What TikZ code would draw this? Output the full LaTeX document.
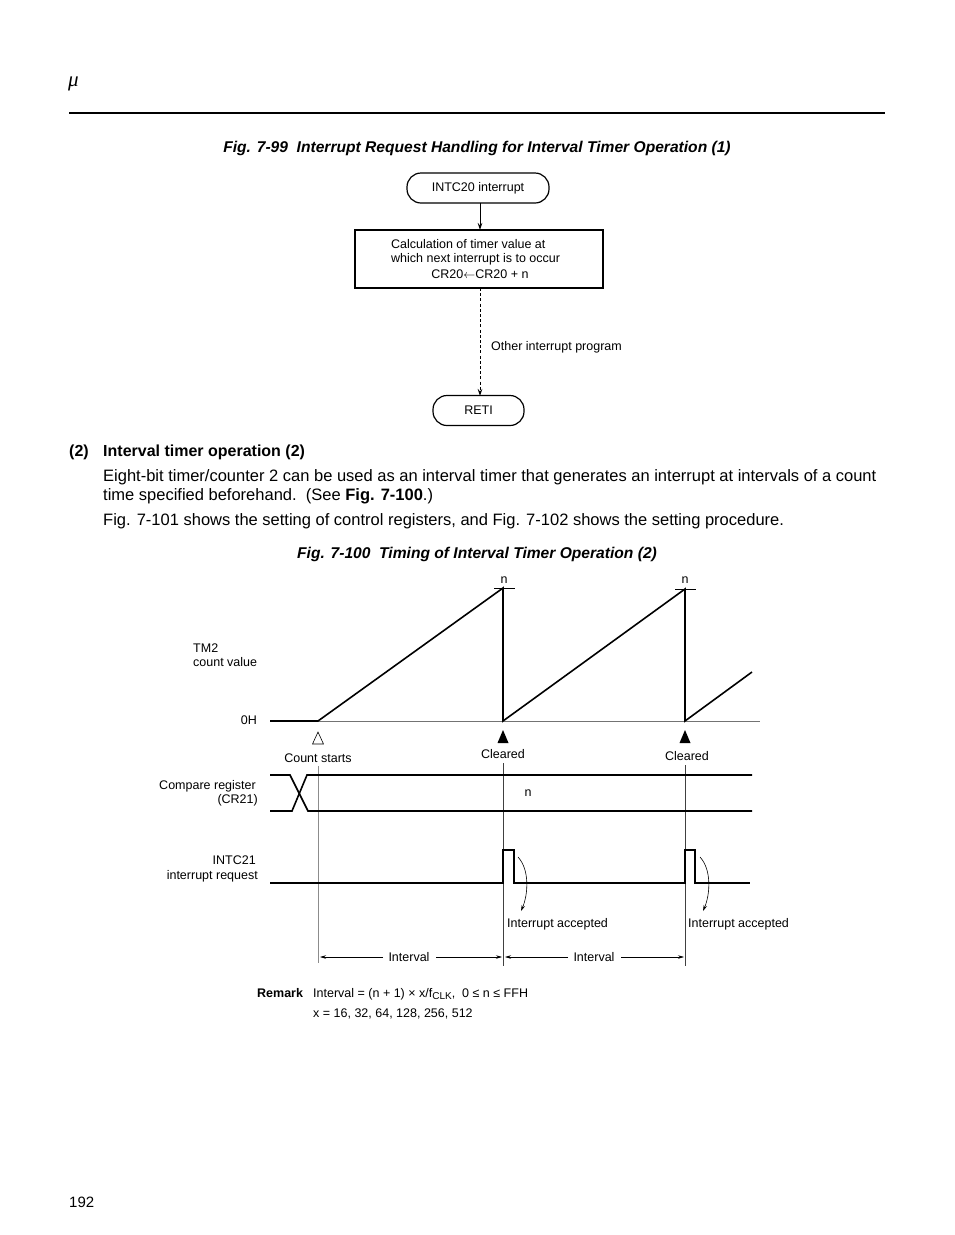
\documentclass[tikz,border=0pt]{standalone}
\usepackage{fontspec}
\setmainfont{Liberation Sans}
\newfontfamily\seriffont{Liberation Serif}
\usetikzlibrary{arrows.meta}
\begin{document}
\begin{tikzpicture}[x=1pt,y=-1pt,
  lbl/.style={inner sep=0pt,font=\fontsize{12.5}{14}\selectfont},
  body/.style={inner sep=0pt,font=\fontsize{16.5}{19}\selectfont},
  capt/.style={inner sep=0pt,font=\fontsize{15.6}{18}\selectfont\bfseries\itshape},
  term/.style={draw,line width=1.2pt,rounded corners=14pt,inner sep=0pt,minimum height=30pt,font=\fontsize{12.5}{14}\selectfont},
  procbox/.style={draw,line width=1.2pt,inner sep=0pt,minimum width=248pt,minimum height=58pt},
  flow/.style={line width=0.8pt,-{Stealth[length=7pt,width=4.5pt]}},
  sig/.style={line width=1.6pt,line join=miter},
  guide/.style={line width=0.7pt,black!75},
  tip/.style={-{Stealth[length=6pt,width=3.5pt]},line width=0.6pt},
]
\useasboundingbox (0,0) rectangle (954,1235);
% header
\node[inner sep=0pt,anchor=base west,font=\fontsize{21}{24}\selectfont\seriffont\itshape] (mu) at (68,86) {μ};
\draw[line width=2.2pt] (69,113) -- (885,113);
\node[capt,anchor=base] (cap1) at (477,152) {Fig. 7-99\ \ Interrupt Request Handling for Interval Timer Operation (1)};
% flowchart
\node[term,minimum width=142pt] (a) at (478,188) {INTC20 interrupt};
\node[procbox] (b) at (479,259) {};
\node[lbl,anchor=base west] (b1) at (391,248) {Calculation of timer value at};
\node[lbl,anchor=base west] (b2) at (391,262) {which next interrupt is to occur};
\node[lbl,anchor=base] (b3) at (480,278) {CR20$\leftarrow$CR20 + n};
\node[term,minimum width=91pt] (c) at (478.5,410.5) {RETI};
\draw[flow] (480,203) -- (480,230);
\draw[flow,dash pattern=on 3pt off 2.2pt] (480,288) -- (480,396);
\node[lbl,anchor=base west] (oth) at (491,350) {Other interrupt program};
% section text
\node[body,anchor=base west,font=\fontsize{16}{19}\selectfont\bfseries] (s2a) at (69,456) {(2)};
\node[body,anchor=base west,font=\fontsize{16}{19}\selectfont\bfseries] (s2b) at (103,456) {Interval timer operation (2)};
\node[body,anchor=base west] (p1) at (103,481) {Eight-bit timer/counter 2 can be used as an interval timer that generates an interrupt at intervals of a count};
\node[body,anchor=base west] (p2) at (103,500) {time specified beforehand.\ \ (See \textbf{Fig. 7-100}.)};
\node[body,anchor=base west] (p3) at (103,525) {Fig. 7-101 shows the setting of control registers, and Fig. 7-102 shows the setting procedure.};
\node[capt,anchor=base] (cap2) at (477,558) {Fig. 7-100\ \ Timing of Interval Timer Operation (2)};
% timing: TM2
\node[lbl,anchor=base west] (tm2a) at (193,652) {TM2};
\node[lbl,anchor=base west] (tm2b) at (193,666) {count value};
\node[lbl,anchor=base east] (zh) at (257,724) {0H};
\node[lbl,anchor=base] (n1) at (504,583) {n};
\node[lbl,anchor=base] (n2) at (685,583) {n};
\draw[line width=0.9pt,black!55] (318,721) -- (760,721);
\draw[line width=0.8pt] (494,588) -- (515,588);
\draw[line width=0.8pt] (675,589) -- (696,589);
\draw[sig] (270,721) -- (318,721) -- (503,588) -- (503,721) -- (685,589) -- (685,721) -- (752,672);
% markers
\draw[line width=0.6pt,fill=white] (318,732) -- (312.5,744) -- (323.5,744) -- cycle;
\fill (503,730) -- (497.5,743) -- (508.5,743) -- cycle;
\fill (685,730) -- (679.5,743) -- (690.5,743) -- cycle;
\node[lbl,anchor=base] (cs) at (318,762) {Count starts};
\node[lbl,anchor=base] (cl1) at (503,758) {Cleared};
\node[lbl,anchor=base] (cl2) at (687,760) {Cleared};
\draw[line width=0.7pt,black!45] (318,766) -- (318,963);
\draw[guide] (503,763) -- (503,966);
\draw[guide] (685,765) -- (685,966);
% compare register
\node[lbl,anchor=base east] (cr1) at (256,789) {Compare register};
\node[lbl,anchor=base east] (cr2) at (258,803) {(CR21)};
\draw[sig] (270,775) -- (290,775) -- (308,811) -- (752,811);
\draw[sig] (270,811) -- (292,811) -- (307,775) -- (752,775);
\node[lbl,anchor=base] (crn) at (528,796) {n};
% INTC21
\node[lbl,anchor=base east] (ir1) at (256,864) {INTC21};
\node[lbl,anchor=base east] (ir2) at (258,879) {interrupt request};
\draw[sig] (270,883) -- (503,883) -- (503,850) -- (514,850) -- (514,883) -- (685,883) -- (685,850) -- (695,850) -- (695,883) -- (750,883);
\node[lbl,anchor=base west] (ia1) at (507,927) {Interrupt accepted};
\node[lbl,anchor=base west] (ia2) at (688,927) {Interrupt accepted};
\coordinate (ca1s) at (518,857);
\coordinate (ca1e) at (521,911);
\coordinate (ca2s) at (700,857);
\coordinate (ca2e) at (703,911);
\draw[tip] (ca1s) .. controls (530,870) and (528,895) .. (ca1e);
\draw[tip] (ca2s) .. controls (712,870) and (710,895) .. (ca2e);
% intervals
\node[lbl,anchor=base] (iv1) at (409,961) {Interval};
\node[lbl,anchor=base] (iv2) at (594,961) {Interval};
\coordinate (iv1l) at (320,957);
\coordinate (iv1r) at (502,957);
\coordinate (iv2l) at (505,957);
\coordinate (iv2r) at (684,957);
\draw[tip] (383,957) -- (iv1l);
\draw[tip] (436,957) -- (iv1r);
\draw[tip] (568,957) -- (iv2l);
\draw[tip] (621,957) -- (iv2r);
% remark
\node[lbl,anchor=base west,font=\fontsize{12.5}{14}\selectfont\bfseries] (rm) at (257,997) {Remark};
\node[lbl,anchor=base west] (rm1) at (313,997) {Interval = (n + 1) × x/f\raisebox{-2.5pt}{\fontsize{10}{10}\selectfont CLK},\ \ 0 ≤ n ≤ FFH};
\node[lbl,anchor=base west] (rm2) at (313,1017) {x = 16, 32, 64, 128, 256, 512};
% page number
\node[body,anchor=base west,font=\fontsize{15}{18}\selectfont] (pg) at (69,1207) {192};
\end{tikzpicture}
\end{document}
